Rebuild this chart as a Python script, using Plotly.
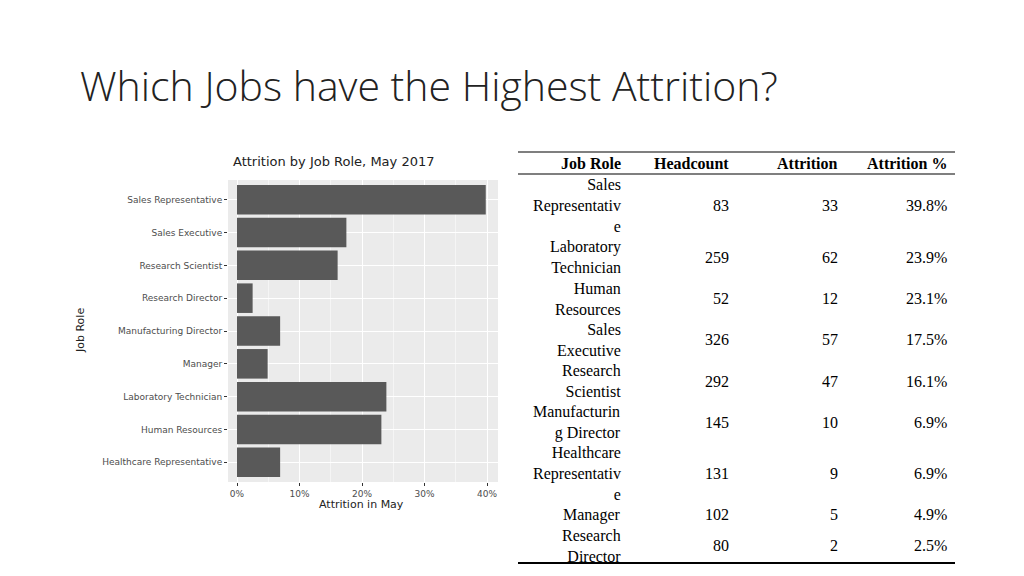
import plotly.graph_objects as go

# bar chart data (bottom to top as drawn)
roles = ["Healthcare Representative", "Human Resources", "Laboratory Technician", "Manager",
         "Manufacturing Director", "Research Director", "Research Scientist",
         "Sales Executive", "Sales Representative"]
attr_pct = [6.9, 23.1, 23.9, 4.9, 6.9, 2.5, 16.1, 17.5, 39.8]
x_ticks = [0, 10, 20, 30, 40]
x_labels = ["0%", "10%", "20%", "30%", "40%"]

# table data (as wrapped on the slide)
tbl_roles = ["Sales<br>Representativ<br>e", "Laboratory<br>Technician", "Human<br>Resources",
             "Sales<br>Executive", "Research<br>Scientist", "Manufacturin<br>g Director",
             "Healthcare<br>Representativ<br>e", "Manager", "Research<br>Director"]
tbl_head = [83, 259, 52, 326, 292, 145, 131, 102, 80]
tbl_attr = [33, 62, 12, 57, 47, 10, 9, 5, 2]
tbl_pct = ["39.8%", "23.9%", "23.1%", "17.5%", "16.1%", "6.9%", "6.9%", "4.9%", "2.5%"]

W, H = 1024, 576
OFF = 8  # page body margin
px = lambda x: (x - OFF) / W
py = lambda y: 1 - (y - OFF) / H

fig = go.Figure(go.Bar(x=attr_pct, y=roles, orientation="h", width=0.9,
                       marker=dict(color="#595959", line_width=0)))

fig.update_layout(
    width=W, height=H, margin=dict(l=0, r=0, t=0, b=0),
    paper_bgcolor="white", plot_bgcolor="#EBEBEB", showlegend=False,
    xaxis=dict(domain=[px(228), px(498)], range=[-1.44, 41.76], tickvals=x_ticks,
               ticktext=x_labels, showgrid=True, gridcolor="white", gridwidth=1,
               minor=dict(tickvals=[5, 15, 25, 35], showgrid=True, gridcolor="#F5F5F5", gridwidth=0.6),
               ticks="outside", ticklen=3, tickcolor="#333", zeroline=False,
               tickfont=dict(family="DejaVu Sans", size=9, color="#4D4D4D")),
    yaxis=dict(domain=[py(482), py(180)], showgrid=True, gridcolor="white",
               ticks="outside", ticklen=3, tickcolor="#333", range=[-0.6, 8.6],
               tickfont=dict(family="DejaVu Sans", size=9, color="#4D4D4D")),
    font=dict(family="DejaVu Sans"),
)

ann = [
    dict(x=px(78), y=py(85), text="Which Jobs have the Highest Attrition?", xanchor="left",
         yanchor="middle", font=dict(family="Open Sans", size=41, color="#222", weight=300)),
    dict(x=px(333), y=py(161), text="Attrition by Job Role, May 2017", xanchor="center",
         yanchor="middle", font=dict(size=13, color="#222")),
    dict(x=px(361), y=py(504), text="Attrition in May", xanchor="center",
         yanchor="middle", font=dict(size=11, color="#222")),
    dict(x=px(80), y=py(331), text="Job Role", textangle=-90, xanchor="center",
         yanchor="middle", font=dict(size=11, color="#222")),
]

serif = dict(family="Liberation Serif", size=16, color="black")
cols = [623, 731, 840, 949]
for c, t in zip(cols, ["Job Role", "Headcount", "Attrition", "Attrition %"]):
    ann.append(dict(x=px(c), y=py(164), text="<b>%s</b>" % t, xanchor="right",
                    yanchor="middle", font=serif))

line_h = 20.6
top = 175
for r, h, a, p in zip(tbl_roles, tbl_head, tbl_attr, tbl_pct):
    n = r.count("<br>") + 1
    mid = top + n * line_h / 2
    ann.append(dict(x=px(cols[0]), y=py(mid), text=r, xanchor="right", yanchor="middle",
                    align="right", font=serif))
    for c, v in zip(cols[1:], [h, a, p]):
        ann.append(dict(x=px(c), y=py(mid), text=str(v), xanchor="right",
                        yanchor="middle", font=serif))
    top += n * line_h

for a_ in ann:
    a_.update(xref="paper", yref="paper", showarrow=False)
fig.update_layout(annotations=ann)

shapes = []
for y, w in [(152, 1.2), (174, 1.2), (563, 2)]:
    shapes.append(dict(type="line", xref="paper", yref="paper", x0=px(518), x1=px(955),
                       y0=py(y), y1=py(y), line=dict(color="black", width=w)))
fig.update_layout(shapes=shapes)

fig.write_html("out.html")
